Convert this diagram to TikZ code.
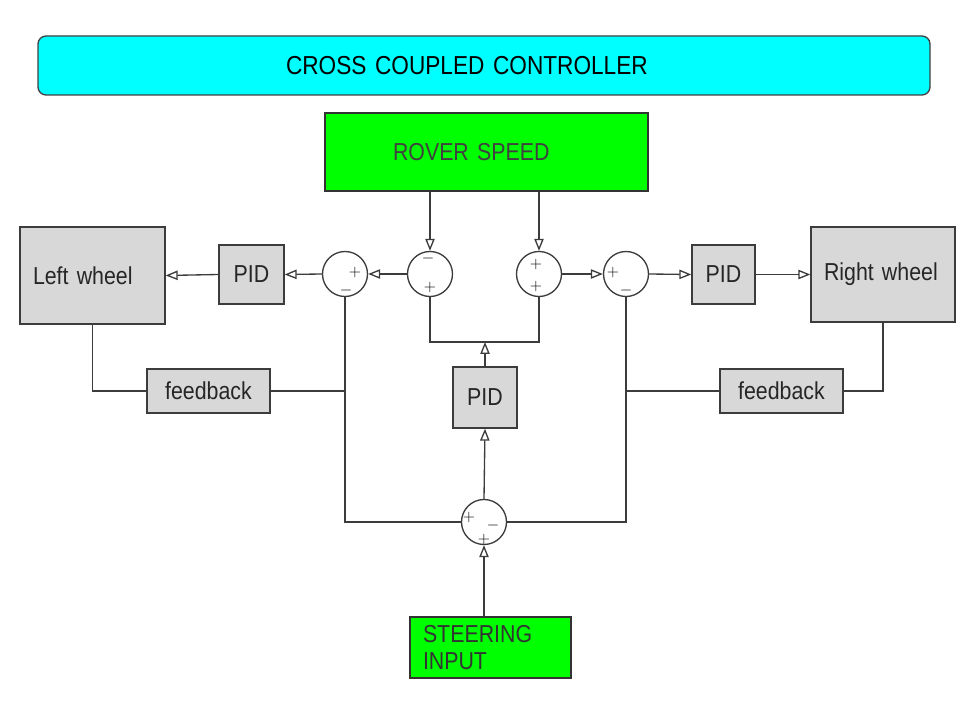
\documentclass[tikz,border=0pt]{standalone}
\usepackage{fontspec}
\setmainfont[FakeStretch=0.87]{Liberation Sans}
\usepackage{tikz}
\usetikzlibrary{arrows.meta}
\definecolor{boxgray}{HTML}{D8D8D8}
\definecolor{linegray}{HTML}{3C3C3C}
\definecolor{titlecyan}{HTML}{00FFFF}
\definecolor{speedgreen}{HTML}{00FF00}
\newcommand{\sumsize}{33.75pt}

\begin{document}
\begin{tikzpicture}[x=.75pt,y=-.75pt,
    line width=1pt, draw=linegray,
    font=\fontsize{18.4}{22}\selectfont,
    box/.style={draw=linegray, fill=boxgray, inner ysep=0pt, minimum height=44.25pt, text=black!85},
    sum/.style={draw=linegray, circle, minimum size=\sumsize, inner sep=0pt},
    sign/.style={font=\fontsize{12}{12}\selectfont, inner sep=0pt},
    arr/.style={-{Triangle[open,length=9pt,width=7pt]}}]

        \useasboundingbox (0,0) rectangle (965,702);

          % header
        \node (title) at (484,65.5) [draw=black!75, fill=titlecyan, rounded corners=6pt, minimum width=669pt, minimum height=44.25pt, inner xsep=186pt, text width=297pt, align=left, font=\fontsize{19.5}{22}\selectfont] {CROSS COUPLED CONTROLLER};
        \node (rover) at (486.5,152) [draw=black!80, fill=speedgreen, minimum width=242.25pt, minimum height=58.5pt, inner xsep=51pt, text width=140.25pt, align=left, text=black!75] {ROVER SPEED};

          % wheels and controllers
        \node (lwheel) at (92.5,275.5) [box, minimum height=72.75pt, inner xsep=9.75pt, text width=89.25pt, align=left] {Left wheel};
        \node (rwheel) at (883,274.5) [box, minimum height=71.25pt, inner xsep=9.75pt, text width=88.5pt, align=left] {\strut Right wheel};
        \node (pidl) at (251.5,274.5) [box, minimum width=48.75pt] {PID};
        \node (pidr) at (723.5,274.5) [box, minimum width=47.25pt] {PID};
        \node (pidm) at (485,397.5) [box, minimum width=48pt, minimum height=45.75pt] {PID};
        \node (fbl) at (208.5,391) [box, minimum width=92.25pt, minimum height=33pt] {feedback};
        \node (fbr) at (781.5,391) [box, minimum width=92.25pt, minimum height=33pt] {feedback};
        \node (steer) at (490.5,647.5) [draw=black!80, fill=speedgreen, minimum width=120.75pt, minimum height=45.75pt, inner xsep=9.75pt, inner ysep=0pt, text width=101.25pt, align=left, text=black!80, font=\fontsize{18.4}{20}\selectfont] {STEERING\\INPUT};

          % summing points
        \node (c1) at (345,274) [sum] {};
        \node (c2) at (430,274) [sum] {};
        \node (c3) at (539,274) [sum] {};
        \node (c4) at (626,274) [sum] {};
        \node (cb) at (484,522) [sum] {};
        \coordinate (j) at (485,342);

        \node (c1p) at (355,273) [sign] {$+$};
        \node (c1m) at (346,291) [sign] {$-$};
        \node (c2m) at (428,259) [sign] {$-$};
        \node (c2p) at (430,288) [sign] {$+$};
        \node (c3p) at (536,265) [sign] {$+$};
        \node (c3q) at (536,287) [sign] {$+$};
        \node (c4p) at (613,273) [sign] {$+$};
        \node (c4m) at (626,291) [sign] {$-$};
        \node (cbp) at (469,518) [sign] {$+$};
        \node (cbm) at (493,525) [sign] {$-$};
        \node (cbq) at (484,539) [sign] {$+$};

        \draw[arr] (c2 |- rover.south) -- (c2.north);
        \draw[arr] (c3 |- rover.south) -- (c3.north);
        \draw[arr] (c2.west) -- (c1.east);
        \draw[arr] (c1.west) -- (pidl.east);
        \draw[arr] (pidl.west) -- (lwheel.east);
        \draw[arr] (c3.east) -- (c4.west);
        \draw[arr] (c4.east) -- (pidr.west);
        \draw[arr] (pidr.east) -- (rwheel.west);

        \draw (lwheel.south) |- (fbl.west);
        \draw (fbl.east) -- (fbl.east -| c1);
        \draw (c1.south) |- (cb.west);
        \draw (rwheel.south) |- (fbr.east);
        \draw (fbr.west) -- (fbr.west -| c4);
        \draw (c4.south) |- (cb.east);

        \draw[arr] (steer.north -| cb) -- (cb.south);
        \draw[arr] (cb.north) -- (pidm.south);
        \draw[arr] (pidm.north) -- (j);
        \draw (c2.south) |- (j) -| (c3.south);

\end{tikzpicture}
\end{document}
